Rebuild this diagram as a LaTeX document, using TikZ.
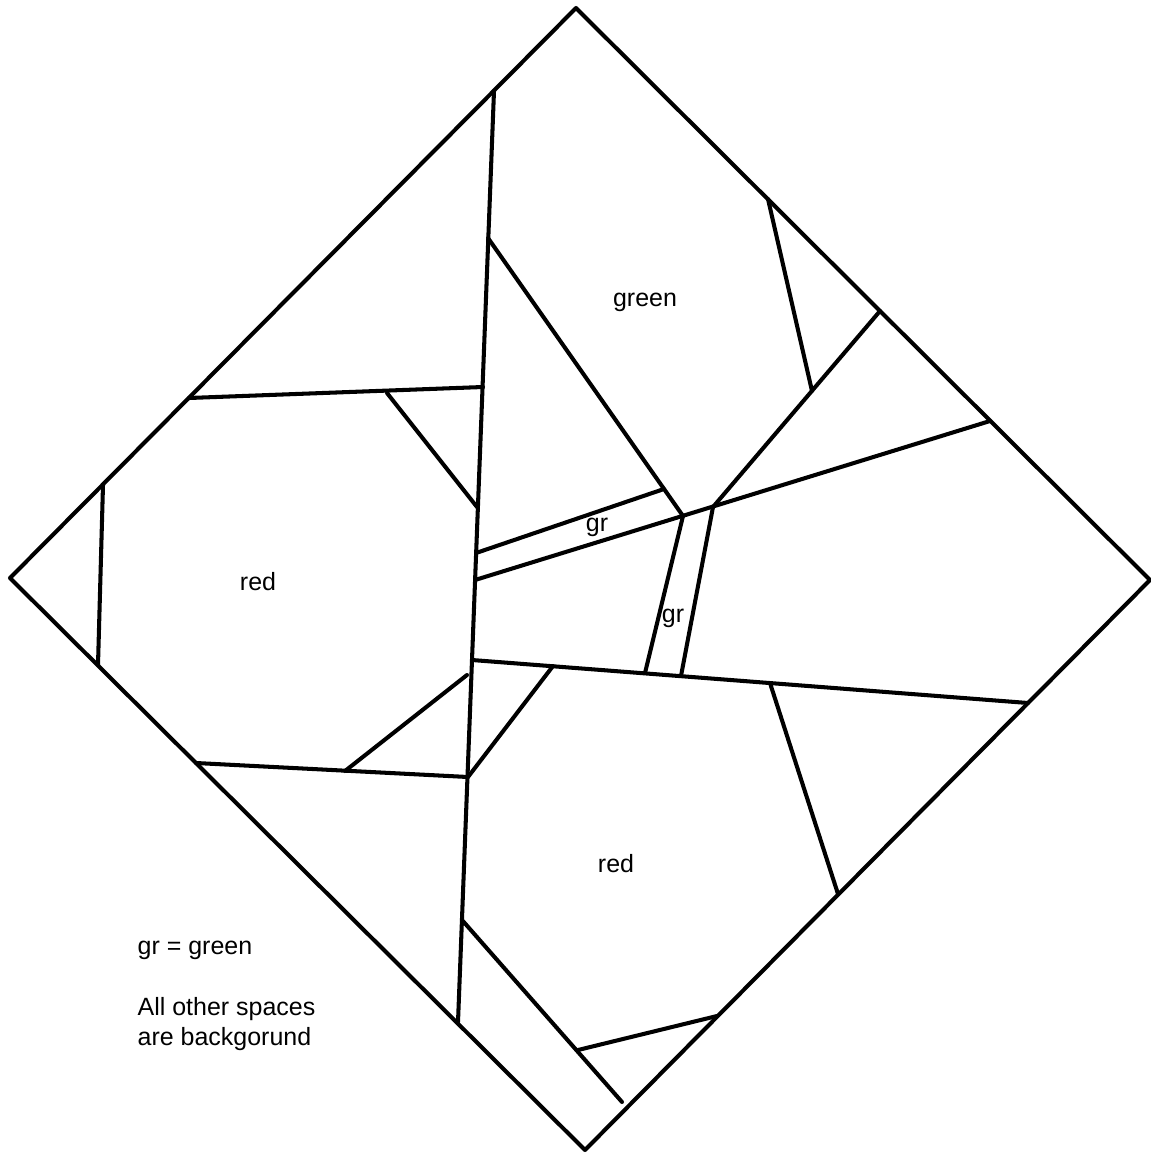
\documentclass[tikz,border=0pt]{standalone}
\usepackage{fontspec}
\setmainfont{Liberation Sans}
\usetikzlibrary{positioning}

\begin{document}
\begin{tikzpicture}[
    x=0.01cm, y=-0.01cm,
    cut/.style={line width=1.15pt, line cap=round, line join=round, black},
    label/.style={font=\fontsize{7.1}{8.4}\selectfont, inner sep=0pt},
    note/.style={label, align=left, anchor=west},
]
\useasboundingbox (0,0) rectangle (1151,1154);

%% outer square, turned on its corner
\coordinate (top) at (576,8);
\coordinate (right) at (1150,580);
\coordinate (bottom) at (585,1150);
\coordinate (left) at (10,578);
\draw[cut] (top) -- (right) -- (bottom) -- (left) -- cycle;

%% long cut from top left edge to bottom left edge
\coordinate (mvtop) at (494,91);
\coordinate (mvbot) at (458,1022);
\draw[cut] (mvtop) -- (mvbot);

%% left red piece
\coordinate (rl1) at (189,398);
\coordinate (rl2) at (483,387);
\coordinate (rl3) at (387,393);
\coordinate (rl4) at (477,507);
\coordinate (rl5) at (103,485);
\coordinate (rl6) at (98,665);
\coordinate (rl7) at (196,763);
\coordinate (rl8) at (468,777);
\coordinate (rl9) at (345,771);
\coordinate (rl10) at (467,675);
\draw[cut] (rl1) -- (rl2);
\draw[cut] (rl3) -- (rl4);
\draw[cut] (rl5) -- (rl6);
\draw[cut] (rl7) -- (rl8);
\draw[cut] (rl9) -- (rl10);

%% lower red piece
\coordinate (rb1) at (472,660);
\coordinate (rb2) at (1028,703);
\coordinate (rb3) at (553,666);
\coordinate (rb4) at (770,683);
\coordinate (rb5) at (838,894);
\coordinate (rb6) at (462,920);
\coordinate (rb7) at (622,1102);
\coordinate (rb8) at (578,1050);
\coordinate (rb9) at (717,1016);
\draw[cut] (rb1) -- (rb2);
\draw[cut] (rl8) -- (rb3);
\draw[cut] (rb4) -- (rb5);
\draw[cut] (rb6) -- (rb7);
\draw[cut] (rb8) -- (rb9);

%% green piece and the two gr strips
\coordinate (gs1) at (475,580);
\coordinate (gs2) at (990,421);
\coordinate (ja) at (683,516);
\coordinate (jb) at (713,507);
\coordinate (gd) at (488,238);
\coordinate (gu1) at (476,553);
\coordinate (gu2) at (664,489);
\coordinate (gv1) at (645,673);
\coordinate (gv2) at (681,676);
\coordinate (gm) at (880,311);
\coordinate (gn1) at (768,199);
\coordinate (gn2) at (812,391);
\draw[cut] (gs1) -- (gs2);
\draw[cut] (gd) -- (ja);
\draw[cut] (gu1) -- (gu2);
\draw[cut] (ja) -- (gv1);
\draw[cut] (jb) -- (gv2);
\draw[cut] (jb) -- (gm);
\draw[cut] (gn1) -- (gn2);

%% labels
\node[label] (txtgreen) at (645,302) {green};
\node[label] (txtredl) at (258,582) {red};
\node[label] (txtredb) at (616,864) {red};
\node[label] (txtgra) at (597,527) {gr};
\node[label] (txtgrb) at (673,618) {gr};

%% key
\node[note] (keygr) at (137,950) {gr = green};
\node[note] (keyrest) at (137,1024) {All other spaces\\are backgorund};

\end{tikzpicture}
\end{document}
